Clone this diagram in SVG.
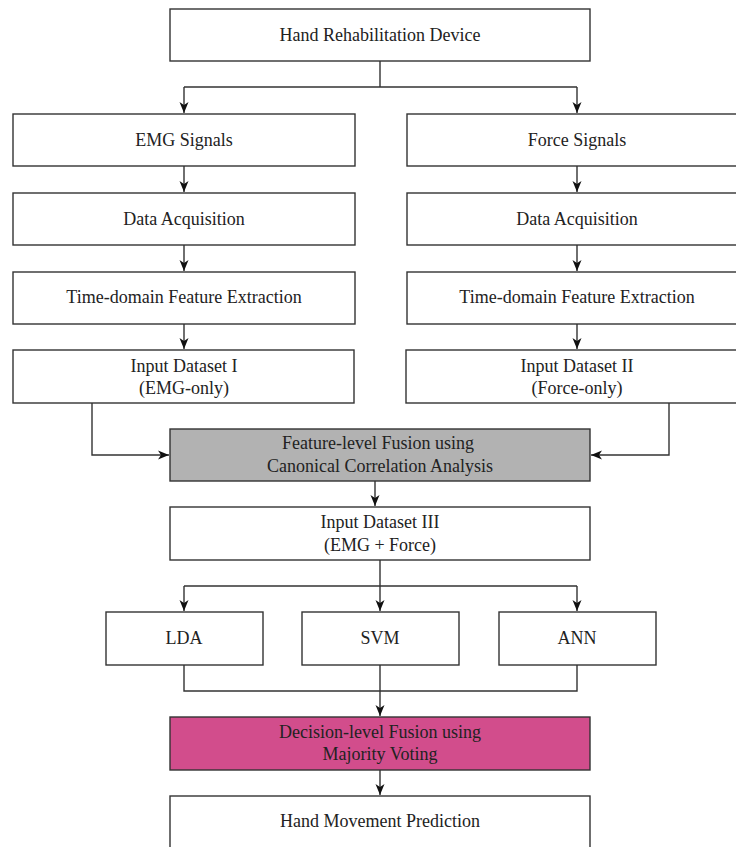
<svg xmlns="http://www.w3.org/2000/svg" width="736" height="847" viewBox="0 0 736 847">
<style>
.box{fill:#fff;stroke:#333;stroke-width:1.4}
.grey{fill:#b2b2b2}
.pink{fill:#d24d8c}
.t{font-family:"Liberation Serif","Times New Roman",serif;font-size:18px;fill:#222;text-anchor:middle}
.c{fill:none;stroke:#333;stroke-width:1.4}
</style>
<defs>
<marker id="ah" markerUnits="userSpaceOnUse" markerWidth="12" markerHeight="12" viewBox="0 0 12 12" refX="11" refY="6" orient="auto">
<path d="M0,1.5 L11,6 L0,10.5 L3,6 Z" fill="#111"/>
</marker>
</defs>
<rect width="736" height="847" fill="#fff"/>
<g id="connectors">
<path class="c" d="M380,61 V87 M184,87 H577"/>
<path class="c" d="M184,87 V113" marker-end="url(#ah)"/>
<path class="c" d="M577,87 V113" marker-end="url(#ah)"/>
<path class="c" d="M184,166 V192" marker-end="url(#ah)"/>
<path class="c" d="M577,166 V192" marker-end="url(#ah)"/>
<path class="c" d="M184,245 V271" marker-end="url(#ah)"/>
<path class="c" d="M577,245 V271" marker-end="url(#ah)"/>
<path class="c" d="M184,324 V349" marker-end="url(#ah)"/>
<path class="c" d="M577,324 V349" marker-end="url(#ah)"/>
<path class="c" d="M92,403 V455 H169" marker-end="url(#ah)"/>
<path class="c" d="M669,403 V455 H591" marker-end="url(#ah)"/>
<path class="c" d="M375,481 V506" marker-end="url(#ah)"/>
<path class="c" d="M380,560 V586 M184,586 H577"/>
<path class="c" d="M184,586 V611" marker-end="url(#ah)"/>
<path class="c" d="M380,586 V611" marker-end="url(#ah)"/>
<path class="c" d="M577,586 V611" marker-end="url(#ah)"/>
<path class="c" d="M184,665 V691 H577 V665"/>
<path class="c" d="M380,665 V716" marker-end="url(#ah)"/>
<path class="c" d="M380,770 V795" marker-end="url(#ah)"/>
</g>
<g id="hand-rehab-device"><rect class="box" x="170" y="9" width="420" height="52"/><text class="t" x="380" y="41">Hand Rehabilitation Device</text></g>
<g id="emg-signals"><rect class="box" x="13" y="114" width="342" height="52"/><text class="t" x="184" y="146">EMG Signals</text></g>
<g id="force-signals"><rect class="box" x="407" y="114" width="340" height="52"/><text class="t" x="577" y="146">Force Signals</text></g>
<g id="daq-emg"><rect class="box" x="13" y="193" width="342" height="52"/><text class="t" x="184" y="225">Data Acquisition</text></g>
<g id="daq-force"><rect class="box" x="407" y="193" width="340" height="52"/><text class="t" x="577" y="225">Data Acquisition</text></g>
<g id="tdfe-emg"><rect class="box" x="13" y="272" width="342" height="52"/><text class="t" x="184" y="303">Time-domain Feature Extraction</text></g>
<g id="tdfe-force"><rect class="box" x="407" y="272" width="340" height="52"/><text class="t" x="577" y="303">Time-domain Feature Extraction</text></g>
<g id="dataset-1"><rect class="box" x="13" y="350" width="341" height="53"/><text class="t" x="184" y="372">Input Dataset I</text><text class="t" x="184" y="394">(EMG-only)</text></g>
<g id="dataset-2"><rect class="box" x="406" y="350" width="341" height="53"/><text class="t" x="577" y="372">Input Dataset II</text><text class="t" x="577" y="394">(Force-only)</text></g>
<g id="feature-fusion"><rect class="box grey" x="170" y="429" width="420" height="52"/><text class="t" x="378" y="449">Feature-level Fusion using</text><text class="t" x="380" y="472">Canonical Correlation Analysis</text></g>
<g id="dataset-3"><rect class="box" x="170" y="507" width="420" height="53"/><text class="t" x="380" y="528">Input Dataset III</text><text class="t" x="380" y="551">(EMG + Force)</text></g>
<g id="lda"><rect class="box" x="106" y="612" width="157" height="53"/><text class="t" x="184" y="644">LDA</text></g>
<g id="svm"><rect class="box" x="302" y="612" width="157" height="53"/><text class="t" x="380" y="644">SVM</text></g>
<g id="ann"><rect class="box" x="499" y="612" width="157" height="53"/><text class="t" x="577" y="644">ANN</text></g>
<g id="decision-fusion"><rect class="box pink" x="170" y="717" width="420" height="53"/><text class="t" x="380" y="738">Decision-level Fusion using</text><text class="t" x="380" y="760">Majority Voting</text></g>
<g id="prediction"><rect class="box" x="170" y="796" width="420" height="60"/><text class="t" x="380" y="827">Hand Movement Prediction</text></g>
</svg>
